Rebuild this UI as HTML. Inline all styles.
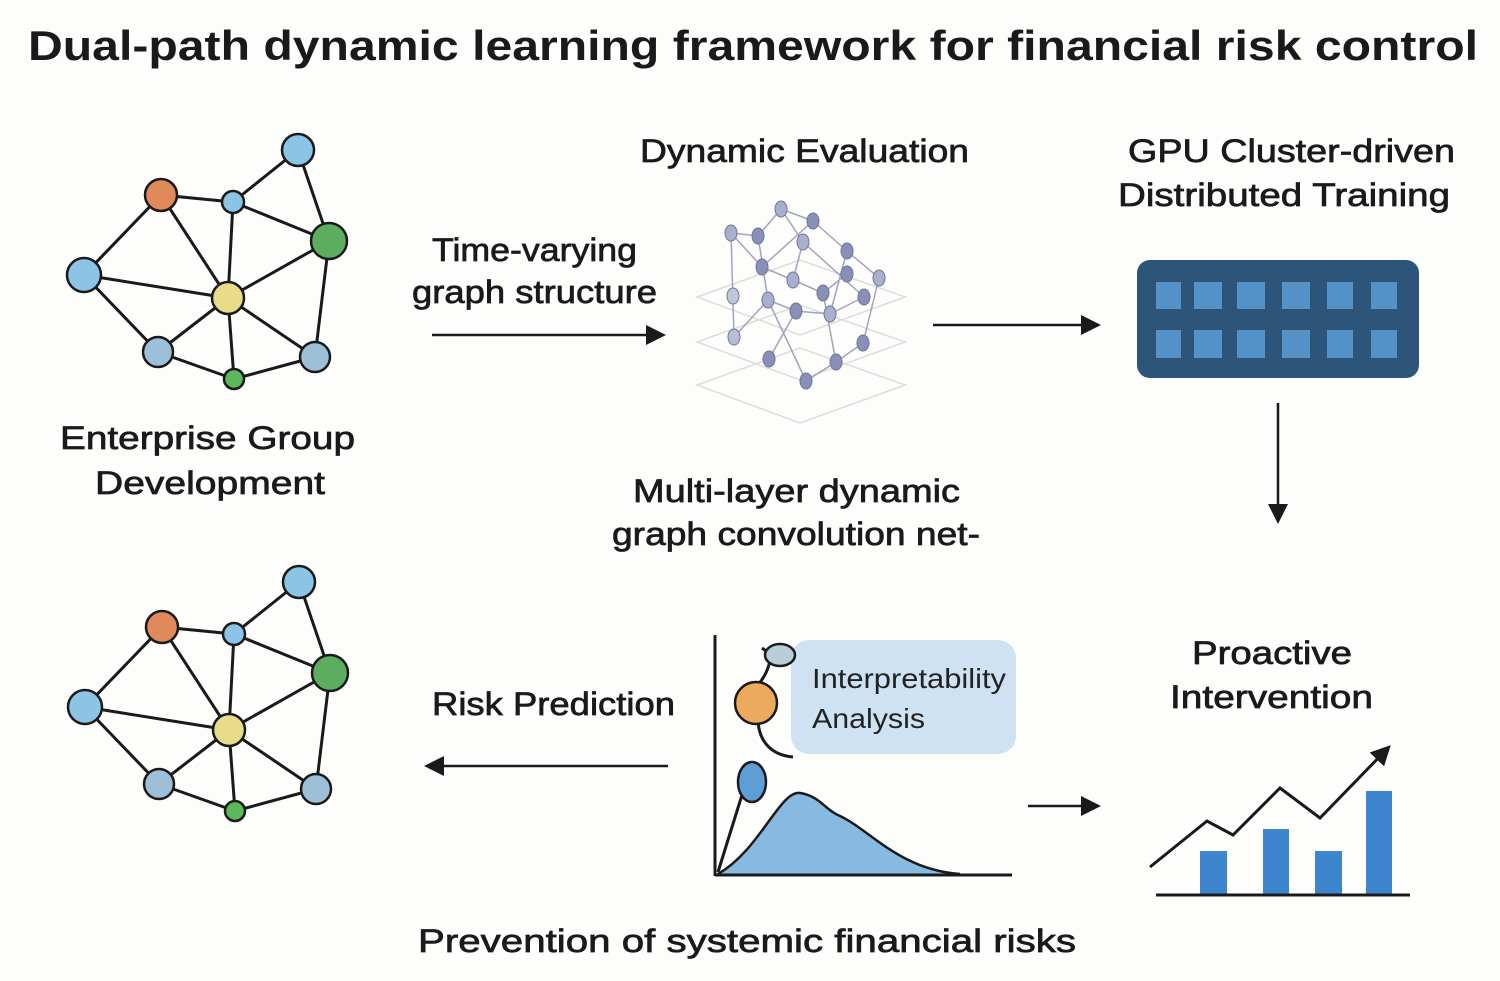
<!DOCTYPE html>
<html><head><meta charset="utf-8"><style>
html,body{margin:0;padding:0;background:#fdfdfb;}
svg{display:block;font-family:"Liberation Sans",Arial,sans-serif;}
</style></head><body>
<svg width="1500" height="981" viewBox="0 0 1500 981" xmlns="http://www.w3.org/2000/svg">
<defs>
<marker id="ah2" markerWidth="20" markerHeight="20" refX="16" refY="10" orient="auto" markerUnits="userSpaceOnUse"><path d="M0,0 L20,10 L0,20 z" fill="#1a1a1a"/></marker>
<g id="graph">
<g stroke="#1a1a1a" stroke-width="3">
<line x1="161" y1="195" x2="233" y2="202"/><line x1="161" y1="195" x2="84" y2="275"/><line x1="161" y1="195" x2="228" y2="298"/>
<line x1="233" y1="202" x2="298" y2="150"/><line x1="233" y1="202" x2="329" y2="241"/><line x1="233" y1="202" x2="228" y2="298"/>
<line x1="298" y1="150" x2="329" y2="241"/><line x1="329" y1="241" x2="228" y2="298"/><line x1="329" y1="241" x2="315" y2="357"/>
<line x1="84" y1="275" x2="228" y2="298"/><line x1="84" y1="275" x2="158" y2="352"/><line x1="228" y1="298" x2="158" y2="352"/>
<line x1="228" y1="298" x2="234" y2="379"/><line x1="228" y1="298" x2="315" y2="357"/><line x1="158" y1="352" x2="234" y2="379"/><line x1="234" y1="379" x2="315" y2="357"/>
</g>
<g stroke="#1a1a1a" stroke-width="2.5">
<circle cx="161" cy="195" r="16" fill="#e08a5c"/><circle cx="233" cy="202" r="11" fill="#8cc4e6"/><circle cx="298" cy="150" r="16" fill="#8cc4e6"/>
<circle cx="329" cy="241" r="18" fill="#5cae5e"/><circle cx="84" cy="275" r="17" fill="#8cc4e6"/><circle cx="228" cy="298" r="16" fill="#e8dc8a"/>
<circle cx="158" cy="352" r="15" fill="#9dc0d8"/><circle cx="315" cy="357" r="15" fill="#9dc0d8"/><circle cx="234" cy="379" r="10" fill="#5cb85c"/>
</g>
</g>
</defs>

<text x="28" y="60" font-size="42" font-weight="bold" fill="#1a1a1a" textLength="1450" lengthAdjust="spacingAndGlyphs">Dual-path dynamic learning framework for financial risk control</text>

<use href="#graph"/>
<use href="#graph" transform="translate(1,432)"/>

<g font-size="32" fill="#1a1a1a" stroke="#1a1a1a" stroke-width="0.7" lengthAdjust="spacingAndGlyphs">
<text x="60" y="449" textLength="295" lengthAdjust="spacingAndGlyphs">Enterprise Group</text>
<text x="95" y="494" textLength="230" lengthAdjust="spacingAndGlyphs">Development</text>
<text x="640" y="162" textLength="329" lengthAdjust="spacingAndGlyphs">Dynamic Evaluation</text>
<text x="432" y="261" textLength="205" lengthAdjust="spacingAndGlyphs">Time-varying</text>
<text x="412" y="303" textLength="245" lengthAdjust="spacingAndGlyphs">graph structure</text>
<text x="1128" y="162" textLength="327" lengthAdjust="spacingAndGlyphs">GPU Cluster-driven</text>
<text x="1118" y="206" textLength="332" lengthAdjust="spacingAndGlyphs">Distributed Training</text>
<text x="633" y="502" textLength="327" lengthAdjust="spacingAndGlyphs">Multi-layer dynamic</text>
<text x="612" y="545" textLength="368" lengthAdjust="spacingAndGlyphs">graph convolution net-</text>
<text x="1192" y="664" textLength="160" lengthAdjust="spacingAndGlyphs">Proactive</text>
<text x="1170" y="708" textLength="203" lengthAdjust="spacingAndGlyphs">Intervention</text>
<text x="432" y="715" textLength="243" lengthAdjust="spacingAndGlyphs">Risk Prediction</text>
<text x="418" y="952" textLength="658" lengthAdjust="spacingAndGlyphs">Prevention of systemic financial risks</text>
</g>

<g stroke="#1a1a1a" stroke-width="2.5" fill="none">
<line x1="432" y1="335" x2="662" y2="335" marker-end="url(#ah2)"/>
<line x1="933" y1="325" x2="1097" y2="325" marker-end="url(#ah2)"/>
<line x1="1278" y1="403" x2="1278" y2="520" marker-end="url(#ah2)"/>
<line x1="668" y1="766" x2="428" y2="766" marker-end="url(#ah2)"/>
<line x1="1028" y1="806" x2="1097" y2="806" marker-end="url(#ah2)"/>
</g>

<g fill="none" stroke="#dcdcdc" stroke-width="1.5">
<path d="M697,297 L800,260 L905,297 L800,335 Z"/>
<path d="M697,342 L800,305 L905,342 L800,380 Z"/>
<path d="M697,385 L800,348 L905,385 L800,423 Z"/>
</g>
<g stroke="#8a90a8" stroke-width="1.5" opacity="0.8">
<line x1="731" y1="233" x2="758" y2="236"/><line x1="758" y1="236" x2="781" y2="209"/><line x1="781" y1="209" x2="813" y2="221"/>
<line x1="813" y1="221" x2="847" y2="251"/><line x1="847" y1="251" x2="879" y2="278"/><line x1="731" y1="233" x2="762" y2="267"/>
<line x1="762" y1="267" x2="793" y2="280"/><line x1="793" y1="280" x2="823" y2="293"/><line x1="823" y1="293" x2="847" y2="274"/>
<line x1="758" y1="236" x2="768" y2="300"/><line x1="781" y1="209" x2="803" y2="242"/><line x1="803" y1="242" x2="793" y2="280"/>
<line x1="768" y1="300" x2="796" y2="311"/><line x1="796" y1="311" x2="830" y2="314"/><line x1="830" y1="314" x2="864" y2="297"/>
<line x1="734" y1="337" x2="768" y2="300"/><line x1="768" y1="300" x2="806" y2="381"/><line x1="806" y1="381" x2="836" y2="362"/>
<line x1="836" y1="362" x2="863" y2="343"/><line x1="863" y1="343" x2="879" y2="278"/><line x1="769" y1="359" x2="796" y2="311"/>
<line x1="823" y1="293" x2="836" y2="362"/><line x1="813" y1="221" x2="762" y2="267"/><line x1="847" y1="251" x2="830" y2="314"/>
<line x1="734" y1="337" x2="731" y2="233"/><line x1="803" y1="242" x2="864" y2="297"/>
</g>
<g fill="#8890b8" stroke="#6e76a0" stroke-width="1">
<ellipse cx="731" cy="233" rx="6" ry="8" fill="#a8b0cc"/><ellipse cx="758" cy="236" rx="6" ry="8"/><ellipse cx="781" cy="209" rx="6" ry="8" fill="#a8b0cc"/>
<ellipse cx="813" cy="221" rx="6" ry="8"/><ellipse cx="803" cy="242" rx="6" ry="8" fill="#a8b0cc"/><ellipse cx="847" cy="251" rx="6" ry="8"/>
<ellipse cx="879" cy="278" rx="6" ry="8" fill="#a8b0cc"/><ellipse cx="762" cy="267" rx="6" ry="8"/><ellipse cx="793" cy="280" rx="6" ry="8" fill="#a8b0cc"/>
<ellipse cx="847" cy="274" rx="6" ry="8"/><ellipse cx="823" cy="293" rx="6" ry="8"/><ellipse cx="768" cy="300" rx="6" ry="8" fill="#a8b0cc"/>
<ellipse cx="796" cy="311" rx="6" ry="8"/><ellipse cx="830" cy="314" rx="6" ry="8" fill="#a8b0cc"/><ellipse cx="864" cy="297" rx="6" ry="8"/>
<ellipse cx="734" cy="337" rx="6" ry="8" fill="#b8bed4"/><ellipse cx="769" cy="359" rx="6" ry="8"/><ellipse cx="806" cy="381" rx="6" ry="8"/>
<ellipse cx="836" cy="362" rx="6" ry="8"/><ellipse cx="863" cy="343" rx="6" ry="8"/><ellipse cx="733" cy="296" rx="6" ry="8" fill="#c0c6da"/>
</g>

<rect x="1137" y="260" width="282" height="118" rx="13" fill="#2d5479"/>
<g fill="#5592c8">
<rect x="1156" y="282" width="25" height="27"/><rect x="1194" y="282" width="28" height="27"/><rect x="1237" y="282" width="28" height="27"/><rect x="1282" y="282" width="28" height="27"/><rect x="1327" y="282" width="26" height="27"/><rect x="1371" y="282" width="26" height="27"/>
<rect x="1156" y="330" width="25" height="28"/><rect x="1194" y="330" width="28" height="28"/><rect x="1237" y="330" width="28" height="28"/><rect x="1282" y="330" width="28" height="28"/><rect x="1327" y="330" width="26" height="28"/><rect x="1371" y="330" width="26" height="28"/>
</g>

<rect x="791" y="640" width="225" height="114" rx="18" fill="#cfe2f3"/>
<text x="812" y="688" font-size="28" fill="#222" textLength="194" lengthAdjust="spacingAndGlyphs">Interpretability</text>
<text x="812" y="728" font-size="28" fill="#222" textLength="113" lengthAdjust="spacingAndGlyphs">Analysis</text>
<path d="M718,874 C760,850 780,790 800,793 C820,796 825,810 840,816 C870,830 900,870 960,874 Z" fill="#88b9e0"/>
<path d="M718,874 C760,850 780,790 800,793 C820,796 825,810 840,816 C870,830 900,870 960,874" fill="none" stroke="#1a1a1a" stroke-width="2.5"/>
<g stroke="#1a1a1a" stroke-width="3" fill="none">
<line x1="715" y1="635" x2="715" y2="876"/><line x1="715" y1="875" x2="1012" y2="875"/>
<path d="M718,872 L742,795"/>
<path d="M762,648 L778,660"/>
<path d="M770,660 C768,672 762,680 758,685"/>
<path d="M758,718 C758,740 770,755 793,757"/>
</g>
<ellipse cx="780" cy="655" rx="15" ry="11" fill="#b8cdd8" stroke="#1a1a1a" stroke-width="2.5"/>
<circle cx="756" cy="703" r="21" fill="#ebaa5e" stroke="#1a1a1a" stroke-width="2.5"/>
<ellipse cx="752" cy="782" rx="14" ry="20" fill="#5d9fd5" stroke="#1a1a1a" stroke-width="2.5"/>

<g fill="#3d85cc">
<rect x="1200" y="851" width="27" height="44"/><rect x="1263" y="829" width="26" height="66"/><rect x="1315" y="851" width="27" height="44"/><rect x="1366" y="791" width="26" height="104"/>
</g>
<line x1="1156" y1="895" x2="1410" y2="895" stroke="#1a1a1a" stroke-width="3"/>
<polyline points="1150,867 1207,821 1233,835 1280,788 1320,818 1388,748" fill="none" stroke="#1a1a1a" stroke-width="3" marker-end="url(#ah2)"/>
</svg>
</body></html>
